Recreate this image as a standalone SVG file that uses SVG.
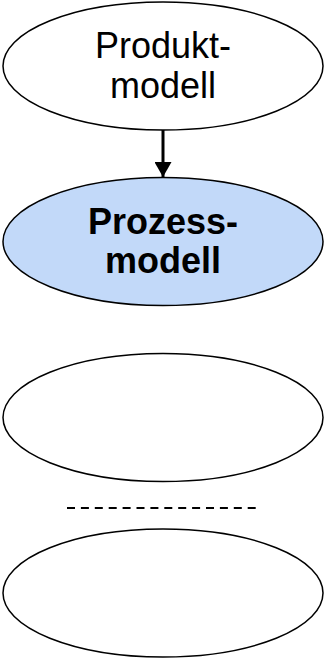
<svg xmlns="http://www.w3.org/2000/svg" width="325" height="660" viewBox="0 0 325 660">
<style>
.n{fill:#fff;stroke:#000;stroke-width:1.5}
.t{font-family:"Liberation Sans",Arial,sans-serif;font-size:36px;text-anchor:middle;fill:#000}
.b{font-weight:bold}
</style>
<defs>
<marker id="ah" markerWidth="16" markerHeight="17" refX="15" refY="8.5" orient="auto" markerUnits="userSpaceOnUse">
<path d="M0,0 L15,8.5 L0,17 Z" fill="#000"/>
</marker>
</defs>
<rect width="325" height="660" fill="#fff"/>
<g id="connectors">
<line x1="163" y1="130" x2="163" y2="177" stroke="#000" stroke-width="3" marker-end="url(#ah)"/>
<line x1="67" y1="508" x2="256" y2="508" stroke="#000" stroke-width="2" stroke-dasharray="8,5.9"/>
</g>
<g id="produktmodell">
<ellipse class="n" cx="163" cy="66" rx="160" ry="64"/>
<text class="t" x="163" y="58">Produkt-</text>
<text class="t" x="163" y="98">modell</text>
</g>
<g id="prozessmodell">
<ellipse class="n" cx="163" cy="241.5" rx="160" ry="64" style="fill:#C2D9F9"/>
<text class="t b" x="163" y="234">Prozess-</text>
<text class="t b" x="163" y="273">modell</text>
</g>
<g id="node3">
<ellipse class="n" cx="163" cy="417.5" rx="160" ry="64"/>
</g>
<g id="node4">
<ellipse class="n" cx="163" cy="593" rx="160" ry="64"/>
</g>
</svg>
